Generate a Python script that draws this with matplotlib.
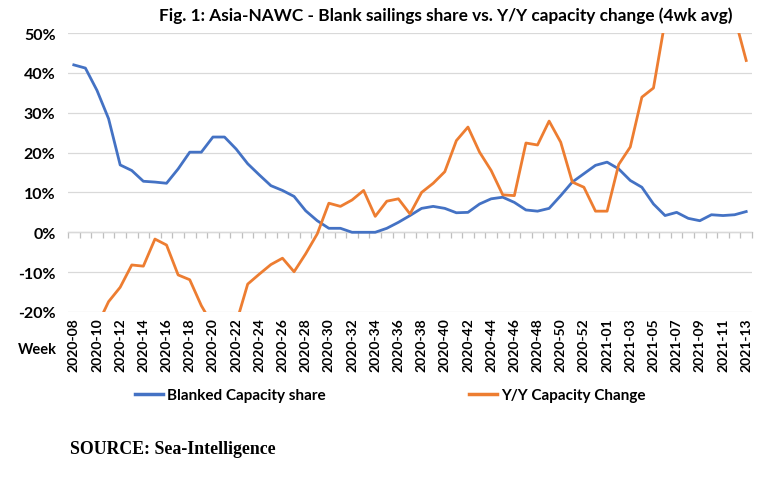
import matplotlib.pyplot as plt
import numpy as np

weeks = ["2020-%02d" % w for w in range(8, 54)] + ["2021-%02d" % w for w in range(1, 14)]

# blanked capacity share, % (4wk avg)
blanked = [42.0, 41.2, 35.6, 28.5, 16.9, 15.5, 12.8, 12.6, 12.3, 15.9,
           20.1, 20.1, 23.9, 23.9, 20.9, 17.2, 14.4, 11.7, 10.5, 9.0,
           5.4, 2.9, 1.0, 1.0, 0.0, 0.0, 0.0, 1.0, 2.5, 4.2,
           6.0, 6.5, 6.0, 4.9, 5.0, 7.1, 8.4, 8.8, 7.5, 5.6,
           5.3, 6.0, 9.2, 12.6, 14.7, 16.8, 17.6, 15.9, 13.0, 11.3,
           7.1, 4.2, 5.0, 3.5, 2.9, 4.4, 4.2, 4.4, 5.2]

# Y/Y capacity change, % (4wk avg) - values beyond the axis range are estimates
yy_change = [-30.0, -28.0, -23.5, -17.4, -13.8, -8.2, -8.5, -1.7, -3.2, -10.7,
             -11.9, -18.4, -23.4, -25.0, -22.9, -13.0, -10.5, -8.1, -6.5, -9.9,
             -5.4, -0.4, 7.3, 6.5, 8.1, 10.5, 4.0, 7.8, 8.4, 4.6,
             10.0, 12.3, 15.2, 23.0, 26.4, 20.1, 15.5, 9.4, 9.2, 22.4,
             21.9, 27.9, 22.6, 12.6, 11.3, 5.3, 5.3, 17.0, 21.4, 33.9,
             36.2, 53.0, 58.0, 60.0, 62.0, 60.0, 57.0, 54.0, 43.1]

blue = "#4472C4"
orange = "#ED7D31"
font = "Lato"

fig = plt.figure(figsize=(7.74, 4.85), dpi=100)
ax = fig.add_axes([68 / 774, 1 - 313 / 485, (752 - 68) / 774, (313 - 34) / 485])

x = np.arange(len(weeks))
ax.plot(x, blanked, color=blue, lw=2.0, solid_joinstyle="round", label="Blanked Capacity share")
ax.plot(x, yy_change, color=orange, lw=2.0, solid_joinstyle="round", label="Y/Y Capacity Change")

ax.set_xlim(-0.5, len(weeks) - 0.5)
ax.set_ylim(-20, 50)
ax.set_yticks(np.arange(-20, 51, 10))
ax.set_yticklabels(["%d%%" % v for v in np.arange(-20, 51, 10)], fontfamily=font,
                   fontweight="bold", fontsize=11.5)
ax.set_xticks(x[::2])
ax.set_xticklabels(weeks[::2], rotation=90, fontfamily=font, fontweight="bold", fontsize=10)
ax.tick_params(axis="both", length=0)
ax.tick_params(axis="y", pad=9)
ax.tick_params(axis="x", pad=4)
ax.grid(axis="y", color="#D9D9D9", lw=0.9)
ax.set_axisbelow(True)
for s in ax.spines.values():
    s.set_visible(False)

# category axis drawn at 0% with tick marks between categories
zero_pos = (0 - (-20)) / 70
sec = ax.secondary_xaxis(zero_pos)
sec.set_xticks(np.arange(-0.5, len(weeks), 1.0))
sec.set_xticklabels([])
sec.tick_params(axis="x", length=4, color="#BFBFBF", width=0.9)
sec.spines["bottom"].set_color("#BFBFBF")
sec.spines["bottom"].set_linewidth(0.9)

fig.text(18 / 774, 1 - 350 / 485, "Week", fontfamily=font, fontweight="bold",
         fontsize=10.5, va="center", ha="left")

fig.text(0.576, 1 - 16 / 485,
         "Fig. 1: Asia-NAWC - Blank sailings share vs. Y/Y capacity change (4wk avg)",
         fontfamily=font, fontweight="bold", fontsize=12.4, ha="center", va="center")

leg = fig.legend(loc="center", bbox_to_anchor=(0.504, 1 - 396 / 485), ncol=2,
                 frameon=False, handlelength=1.85, handletextpad=0.25, columnspacing=9.4,
                 prop={"family": font, "weight": "bold", "size": 11})
for line in leg.get_lines():
    line.set_linewidth(2.5)

fig.text(70 / 774, 1 - 450 / 485, "SOURCE: Sea-Intelligence", fontfamily="Liberation Serif",
         fontweight="bold", fontsize=12.8, ha="left", va="center")

fig.savefig("out.png", dpi=100)
